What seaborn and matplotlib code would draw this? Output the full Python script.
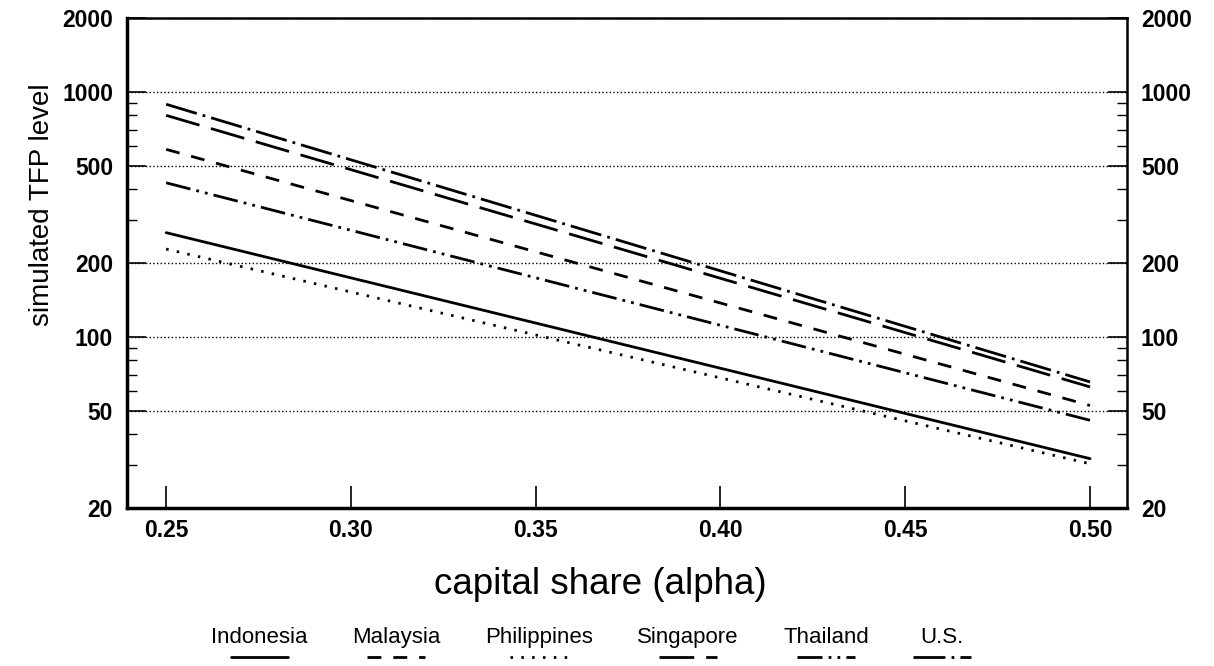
import matplotlib
matplotlib.use("Agg")
import matplotlib.pyplot as plt
import seaborn as sns
import pandas as pd
from matplotlib.offsetbox import VPacker
from matplotlib.ticker import FixedLocator, LogLocator, NullFormatter

# ---- data ----
alpha = [0.25, 0.50]
countries = ["Indonesia", "Malaysia", "Philippines", "Singapore", "Thailand", "U.S."]
indonesia = [266, 31.8]
malaysia = [582, 52.4]
philippines = [228, 30.3]
singapore = [801, 62.4]
thailand = [425, 45.6]
us = [889, 65.4]
xticks = [0.25, 0.30, 0.35, 0.40, 0.45, 0.50]
xticklabels = ["0.25", "0.30", "0.35", "0.40", "0.45", "0.50"]
yticks = [20, 50, 100, 200, 500, 1000, 2000]
yticklabels = ["20", "50", "100", "200", "500", "1000", "2000"]

series = [indonesia, malaysia, philippines, singapore, thailand, us]
rows = []
for c, vals in zip(countries, series):
    for a, v in zip(alpha, vals):
        rows.append({"alpha": a, "tfp": v, "country": c})
df = pd.DataFrame(rows)

sns.set_theme(style="ticks")
plt.rcParams["font.family"] = ["Liberation Sans", "DejaVu Sans"]
plt.rcParams["text.color"] = "black"
plt.rcParams["axes.labelcolor"] = "black"

fig = plt.figure(figsize=(12.14, 6.66), dpi=100)
ax = fig.add_axes([127 / 1214, 1 - 508 / 666, 1000 / 1214, 490 / 666])

dashes = {
    "Indonesia": "",
    "Malaysia": (5, 4.3),
    "Philippines": (0.9, 3.0),
    "Singapore": (12.5, 4.3),
    "Thailand": (9, 2.2, 1, 2.2, 1, 2.2),
    "U.S.": (11.5, 2.2, 1, 2.2),
}
sns.lineplot(data=df, x="alpha", y="tfp", hue="country", style="country",
             hue_order=countries, style_order=countries,
             palette=["black"] * 6, dashes=dashes, lw=2.0, ax=ax)

ax.set_yscale("log")
ax.set_ylim(20, 2000)
ax.set_xlim(0.2394, 0.5100)
ax.yaxis.set_major_locator(FixedLocator(yticks))
ax.set_yticklabels(yticklabels)
ax.yaxis.set_minor_locator(LogLocator(base=10, subs=range(2, 10)))
ax.yaxis.set_minor_formatter(NullFormatter())
ax.set_xticks(xticks)
ax.set_xticklabels(xticklabels)

ax.grid(axis="y", which="major", linestyle=":", color="black", lw=1.0)
ax.tick_params(axis="y", which="both", left=True, right=True, labelleft=True,
               labelright=True, direction="in", labelsize=16.5, colors="black")
ax.tick_params(axis="y", which="major", length=14, width=1.2, pad=10)
ax.tick_params(axis="y", which="minor", length=7, width=1.0)
ax.tick_params(axis="x", which="major", direction="in", length=16, width=1.2,
               labelsize=16.5, pad=8, colors="black")
for lab in ax.get_xticklabels() + ax.get_yticklabels():
    lab.set_fontweight("bold")
for t in ax.yaxis.get_major_ticks():
    t.label2.set_fontweight("bold")

for s in ["left", "bottom"]:
    ax.spines[s].set_linewidth(2.5)
for s in ["top", "right"]:
    ax.spines[s].set_linewidth(1.8)
for s in ax.spines.values():
    s.set_color("black")

ax.set_xlabel("capital share (alpha)", fontsize=26.5)
ax.xaxis.set_label_coords(0.473, -0.12)
ax.set_ylabel("simulated TFP level", fontsize=20)
ax.yaxis.set_label_coords(-0.072, 0.62)

h, l = ax.get_legend_handles_labels()
ax.get_legend().remove()
leg = fig.legend(h, l, ncol=6, frameon=False, loc="center",
                 bbox_to_anchor=(0.487, 0.03), fontsize=16,
                 handlelength=2.6, columnspacing=2.0, markerfirst=False)
for col in leg._legend_handle_box.get_children():
    new = []
    for hp in col.get_children():
        t, hb = hp.get_children()
        new.append(VPacker(pad=0, sep=1, children=[t, hb], align="center"))
    col._children = new

fig.savefig("out.png", dpi=100)
